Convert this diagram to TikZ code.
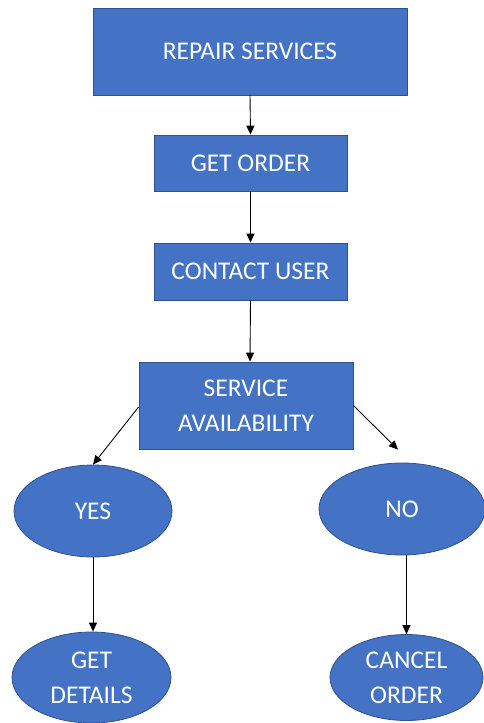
\documentclass[tikz,border=0pt]{standalone}
\usepackage{fontspec}
\setmainfont{Carlito}
\usetikzlibrary{arrows.meta,shapes.geometric}
\definecolor{boxfill}{HTML}{4472C4}
\definecolor{boxline}{HTML}{2F528F}
\tikzset{
  blk/.style={draw=boxline,line width=0.8pt,fill=boxfill,text=white,inner sep=0pt,align=center,
    font=\fontsize{25.5}{35}\selectfont},
  rbox/.style={blk,rectangle},
  ebox/.style={blk,ellipse},
  conn/.style={black,line width=0.9pt,-{Triangle[length=9pt,width=8pt]}}
}
\begin{document}
\begin{tikzpicture}[x=1pt,y=-1pt]
\useasboundingbox (0,0) rectangle (484,723);
\node[rbox,minimum width=314pt,minimum height=87pt] (rs) at (250,51.5) {REPAIR SERVICES};
\node[rbox,minimum width=193pt,minimum height=56pt] (go) at (250.5,163) {GET ORDER};
\node[rbox,minimum width=193pt,minimum height=57pt] (cu) at (250.5,271.5) {CONTACT USER};
\node[rbox,minimum width=214pt,minimum height=87pt] (sa) at (246,405.5) {SERVICE\\AVAILABILITY};
\node[ebox,minimum width=158pt,minimum height=92pt] (yes) at (93,511) {YES};
\node[ebox,minimum width=166pt,minimum height=92pt] (no) at (402,509) {NO};
\node[ebox,minimum width=159pt,minimum height=91pt] (gd) at (91.5,677.5) {GET\\DETAILS};
\node[ebox,minimum width=153pt,minimum height=86pt] (co) at (406.5,677.5) {CANCEL\\ORDER};
\coordinate (noend) at ([xshift=-4pt,yshift=13pt]no.north);
\draw[conn] (rs.south) -- (go.north);
\draw[conn] (go.south) -- (cu.north);
\draw[conn] (cu.south) -- ([xshift=4pt]sa.north);
\draw[conn] ([yshift=-1.5pt]sa.west) -- (yes.north);
\draw[conn] (sa.east) -- (noend);
\draw[conn] (yes.south) -- ([xshift=1.5pt]gd.north);
\draw[conn] ([xshift=4.5pt]no.south) -- (co.north);
\end{tikzpicture}
\end{document}
